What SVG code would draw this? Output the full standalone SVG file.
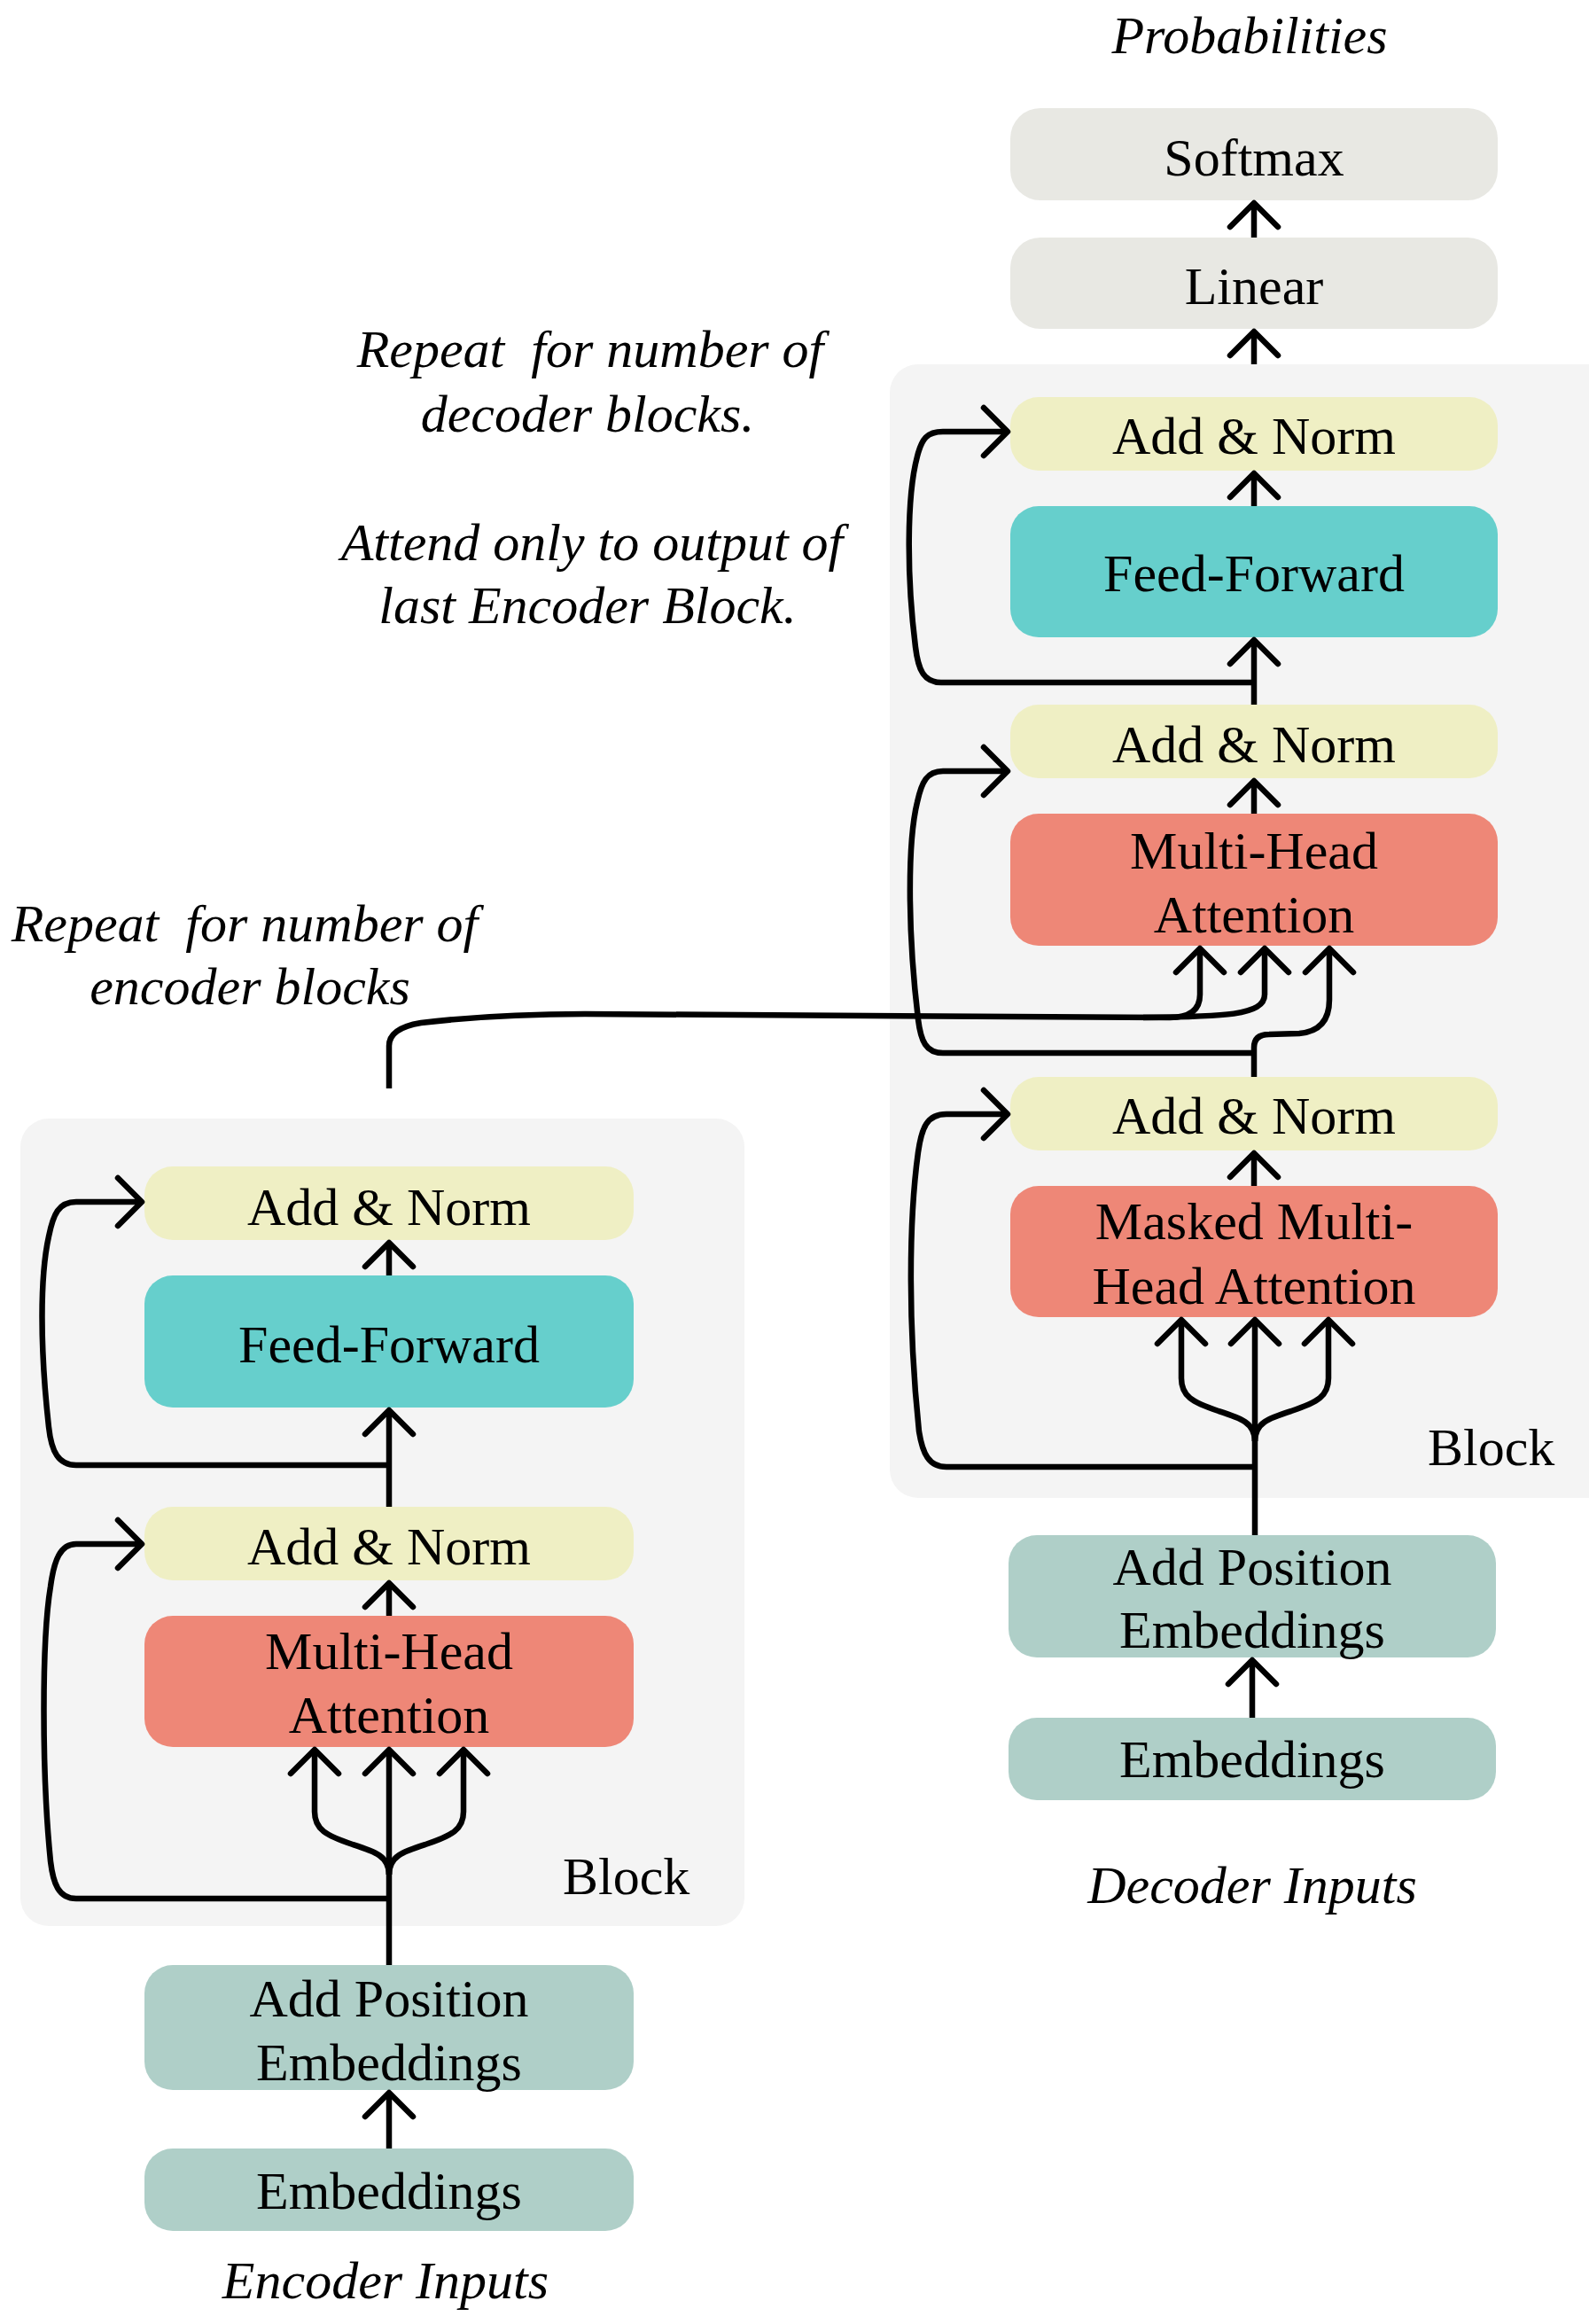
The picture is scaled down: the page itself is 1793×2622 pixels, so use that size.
<svg xmlns="http://www.w3.org/2000/svg" width="1793" height="2622" viewBox="0 0 1793 2622">
<style>
.lbl{font-family:"Liberation Serif","Times New Roman",serif;font-size:60px;fill:#000;text-anchor:middle}
.it{font-family:"Liberation Serif","Times New Roman",serif;font-size:60px;font-style:italic;fill:#000;text-anchor:middle}
.blk{font-family:"Liberation Serif","Times New Roman",serif;font-size:60px;fill:#000}
.bg{fill:#f4f4f4}
.grey{fill:#e8e8e3}
.an{fill:#efefc4}
.ff{fill:#66cfcc}
.mha{fill:#ee8777}
.emb{fill:#afcfc8}
.c{fill:none;stroke:#000;stroke-width:6.5;stroke-linecap:butt;stroke-linejoin:round}
.a{marker-end:url(#ah)}
</style>
<defs>
<marker id="ah" markerUnits="userSpaceOnUse" markerWidth="80" markerHeight="80" viewBox="-40 -40 80 80" refX="0" refY="0" orient="auto" overflow="visible">
<path d="M-27,-27 L0,0 L-27,27" fill="none" stroke="#000" stroke-width="6.5" stroke-linecap="round" stroke-linejoin="round"/>
</marker>
</defs>
<rect width="1793" height="2622" fill="#fff"/>

<g id="encoder-block"><rect class="bg" x="23" y="1262" width="817" height="911" rx="32"/><text class="blk" x="635" y="2137">Block</text></g>
<g id="decoder-block"><rect class="bg" x="1004" y="411" width="830" height="1279" rx="32"/><text class="blk" x="1611" y="1653">Block</text></g>

<g id="annotations">
<text class="it" x="666" y="414" xml:space="preserve">Repeat  for number of</text>
<text class="it" x="663" y="487">decoder blocks.</text>
<text class="it" x="668" y="632">Attend only to output of</text>
<text class="it" x="663" y="703">last Encoder Block.</text>
<text class="it" x="276" y="1062" xml:space="preserve">Repeat  for number of</text>
<text class="it" x="282" y="1133">encoder blocks</text>
<text class="it" x="1410" y="60">Probabilities</text>
<text class="it" x="1413" y="2147">Decoder Inputs</text>
<text class="it" x="435" y="2593">Encoder Inputs</text>
</g>

<g id="dec-softmax"><rect class="grey" x="1140" y="122" width="550" height="104" rx="34"/><text class="lbl" x="1415" y="198">Softmax</text></g>
<g id="dec-linear"><rect class="grey" x="1140" y="268" width="550" height="103" rx="34"/><text class="lbl" x="1415" y="343">Linear</text></g>
<g id="dec-addnorm3"><rect class="an" x="1140" y="448" width="550" height="83" rx="32"/><text class="lbl" x="1415" y="512">Add &amp; Norm</text></g>
<g id="dec-ff"><rect class="ff" x="1140" y="571" width="550" height="148" rx="32"/><text class="lbl" x="1415" y="667">Feed-Forward</text></g>
<g id="dec-addnorm2"><rect class="an" x="1140" y="795" width="550" height="83" rx="32"/><text class="lbl" x="1415" y="860">Add &amp; Norm</text></g>
<g id="dec-mha"><rect class="mha" x="1140" y="918" width="550" height="149" rx="32"/><text class="lbl" x="1415" y="980">Multi-Head</text><text class="lbl" x="1415" y="1052">Attention</text></g>
<g id="dec-addnorm1"><rect class="an" x="1140" y="1215" width="550" height="83" rx="32"/><text class="lbl" x="1415" y="1279">Add &amp; Norm</text></g>
<g id="dec-masked"><rect class="mha" x="1140" y="1338" width="550" height="148" rx="32"/><text class="lbl" x="1415" y="1398">Masked Multi-</text><text class="lbl" x="1415" y="1471">Head Attention</text></g>
<g id="dec-pos"><rect class="emb" x="1138" y="1732" width="550" height="138" rx="32"/><text class="lbl" x="1413" y="1788">Add Position</text><text class="lbl" x="1413" y="1859">Embeddings</text></g>
<g id="dec-emb"><rect class="emb" x="1138" y="1938" width="550" height="93" rx="32"/><text class="lbl" x="1413" y="2005">Embeddings</text></g>

<g id="enc-addnorm2"><rect class="an" x="163" y="1316" width="552" height="83" rx="32"/><text class="lbl" x="439" y="1382">Add &amp; Norm</text></g>
<g id="enc-ff"><rect class="ff" x="163" y="1439" width="552" height="149" rx="32"/><text class="lbl" x="439" y="1537">Feed-Forward</text></g>
<g id="enc-addnorm1"><rect class="an" x="163" y="1700" width="552" height="83" rx="32"/><text class="lbl" x="439" y="1765">Add &amp; Norm</text></g>
<g id="enc-mha"><rect class="mha" x="163" y="1823" width="552" height="148" rx="32"/><text class="lbl" x="439" y="1883">Multi-Head</text><text class="lbl" x="439" y="1955">Attention</text></g>
<g id="enc-pos"><rect class="emb" x="163" y="2217" width="552" height="141" rx="32"/><text class="lbl" x="439" y="2275">Add Position</text><text class="lbl" x="439" y="2347">Embeddings</text></g>
<g id="enc-emb"><rect class="emb" x="163" y="2424" width="552" height="93" rx="32"/><text class="lbl" x="439" y="2492">Embeddings</text></g>

<g id="connectors">
<path class="c a" d="M1415 268 L1415 229"/>
<path class="c a" d="M1415 411 L1415 374"/>
<path class="c a" d="M1415 571 L1415 534"/>
<path class="c a" d="M1415 795 L1415 722"/>
<path class="c a" d="M1415 918 L1415 881"/>
<path class="c a" d="M1415 1338 L1415 1301"/>
<path class="c a" d="M1416 1732 L1416 1489"/>
<path class="c a" d="M1413 1938 L1413 1873"/>
<path class="c a" d="M1416 1626 C1416 1605 1400 1600 1375 1592 C1345 1582 1333 1575 1333 1555 L1333 1489"/>
<path class="c a" d="M1416 1626 C1416 1605 1432 1600 1457 1592 C1487 1582 1499 1575 1499 1555 L1499 1489"/>
<path class="c a" d="M1415 1215 L1415 1182 Q1415 1167 1432 1167 L1466 1166 Q1500 1163 1500 1128 L1500 1070"/>
<path class="c a" d="M1415 770 L1062 770 C1042 770 1036 755 1033 730 C1023 650 1023 560 1035 515 C1040 495 1046 487 1064 487 L1137 487"/>
<path class="c a" d="M1415 1188 L1064 1188 C1045 1188 1039 1175 1036 1150 C1024 1050 1024 950 1035 905 C1040 882 1046 870 1064 870 L1137 870"/>
<path class="c a" d="M1416 1655 L1068 1655 C1048 1655 1041 1640 1037 1615 C1025 1500 1025 1380 1036 1300 C1040 1272 1046 1257 1068 1257 L1137 1257"/>
<path class="c a" d="M439 1228 L439 1180 Q439 1160 475 1154 Q560 1144 660 1144 L1320 1148 Q1354 1148 1354 1122 L1354 1070"/>
<path class="c a" d="M1290 1148 C1380 1147 1427 1146 1427 1122 L1427 1070"/>
<path class="c a" d="M439 1439 L439 1402"/>
<path class="c a" d="M439 1700 L439 1591"/>
<path class="c a" d="M439 1823 L439 1786"/>
<path class="c a" d="M439 2217 L439 1974"/>
<path class="c a" d="M439 2424 L439 2361"/>
<path class="c a" d="M439 2115 C439 2094 423 2089 398 2081 C368 2071 355 2064 355 2044 L355 1974"/>
<path class="c a" d="M439 2115 C439 2094 455 2089 480 2081 C510 2071 523 2064 523 2044 L523 1974"/>
<path class="c a" d="M439 1653 L86 1653 C66 1653 58 1638 55 1610 C45 1520 45 1440 55 1395 C60 1370 66 1356 86 1356 L160 1356"/>
<path class="c a" d="M439 2142 L86 2142 C66 2142 60 2125 57 2100 C47 2000 47 1850 57 1790 C61 1760 68 1742 86 1742 L160 1742"/>
</g>
</svg>
